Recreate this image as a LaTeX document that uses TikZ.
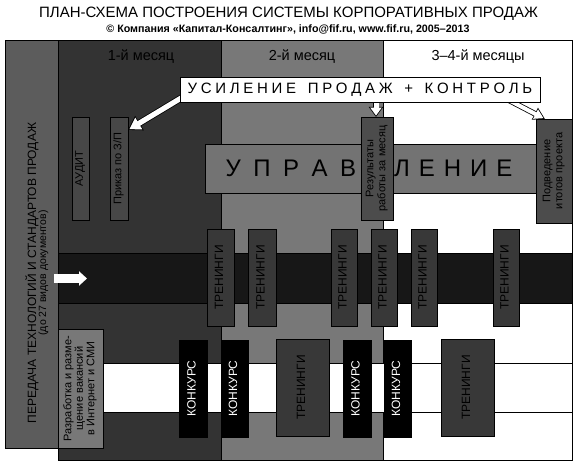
\documentclass[tikz,border=0pt]{standalone}
\usepackage{fontspec}
\usepackage{graphicx}
\setmainfont{Liberation Sans}
\usetikzlibrary{arrows.meta,calc}

\definecolor{leftcol}{gray}{0.36}
\definecolor{monA}{gray}{0.20}
\definecolor{monB}{gray}{0.47}
\definecolor{bandc}{gray}{0.09}
\definecolor{boxa}{gray}{0.28}
\definecolor{boxr}{gray}{0.30}
\definecolor{uprc}{gray}{0.45}
\definecolor{trc}{gray}{0.22}
\definecolor{razrc}{gray}{0.47}

\newcommand\kk{\kern3.7pt}
\newcommand\ku{\kern12.5pt}
\newcommand\kv{\kern9pt}
\newcommand\rbox[7]{\node[#6, minimum width={(#4-#2)*1pt}, minimum height={(#5-#3)*1pt}] (#1) at ({(#2+#4)/2},{(#3+#5)/2}) {\rotatebox{90}{\begin{tabular}{@{}c@{}}#7\end{tabular}}};}

\tikzset{
  frame/.style={draw=black, line width=0.9pt},
  boxbase/.style={draw=black, line width=0.9pt, inner sep=0pt, outer sep=0pt},
  boxA/.style={boxbase, fill=boxa, font=\fontsize{11}{12}\selectfont},
  boxR/.style={boxbase, fill=boxr, font=\fontsize{11}{12}\selectfont},
  trbox/.style={boxbase, fill=trc, font=\fontsize{12}{13}\selectfont},
  kbox/.style={boxbase, fill=black, text=white, font=\fontsize{12}{13}\selectfont},
  razrbox/.style={boxbase, fill=razrc, font=\fontsize{11}{11.5}\selectfont},
  mlabel/.style={font=\fontsize{14.5}{15}\selectfont, inner sep=0pt},
}

\begin{document}
\begin{tikzpicture}[x=1pt,y=-1pt]
\useasboundingbox (0,0) rectangle (578,468);
\fill[white] (0,0) rectangle (578,468);

% title
\node[font=\fontsize{15}{16}\selectfont, inner sep=0pt] (title) at (288.5,13.5) {ПЛАН-СХЕМА ПОСТРОЕНИЯ СИСТЕМЫ КОРПОРАТИВНЫХ ПРОДАЖ};
\node[font=\bfseries\fontsize{10.7}{12}\selectfont, inner sep=0pt] (sub) at (288,29.5) {© Компания «Капитал-Консалтинг», info@fif.ru, www.fif.ru, 2005–2013};

% background columns
\draw[frame, fill=white] (383,40) rectangle (572,460);
\draw[frame, fill=monB] (221,40) rectangle (383,460);
\draw[frame, fill=monA] (58,40) rectangle (221,460);
\draw[frame, fill=leftcol] (5,40) rectangle (58,448);
\draw[frame, fill=bandc] (58,253) rectangle (572,303);
\draw[frame, fill=white] (58,363) rectangle (572,412);

% month labels
\node[mlabel] (m1) at (141,57) {1-й месяц};
\node[mlabel] (m2) at (302,57) {2-й месяц};
\node[mlabel] (m3) at (478,57) {3–4-й месяцы};

% left column text
\node[inner sep=0pt] (ltext) at (37.5,273)
  {\rotatebox{90}{\begin{tabular}{@{}c@{}}\fontsize{12}{13}\selectfont ПЕРЕДАЧА ТЕХНОЛОГИЙ И СТАНДАРТОВ ПРОДАЖ\\[-2pt]
   \fontsize{10.5}{12}\selectfont (до 27 видов документов)\end{tabular}}};

% upper boxes
\rbox{audit}{72}{117}{89}{220}{boxA}{АУДИТ}
\rbox{prikaz}{110}{117}{128}{220}{boxA}{Приказ по З/П}
\node[boxbase, fill=uprc, minimum width=335pt, minimum height=49pt, font=\fontsize{24}{24}\selectfont] (upr) at (372.5,168.5)
  {\kern-7pt У\ku П\ku Р\ku А\ku В\kern38pt Л\kv Е\kv Н\kv И\kv Е};
\rbox{res}{361}{117}{393}{220}{boxR}{Результаты\\работы за месяц}
\rbox{podv}{536}{119}{572}{223}{boxR}{Подведение\\итогов проекта}

% trainings upper row
\rbox{t1}{207}{229}{234}{326}{trbox}{ТРЕНИНГИ}
\rbox{t2}{248}{229}{276}{326}{trbox}{ТРЕНИНГИ}
\rbox{t3}{331}{229}{357}{326}{trbox}{ТРЕНИНГИ}
\rbox{t4}{371}{229}{397}{326}{trbox}{ТРЕНИНГИ}
\rbox{t5}{411}{229}{437}{326}{trbox}{ТРЕНИНГИ}
\rbox{t6}{493}{229}{519}{326}{trbox}{ТРЕНИНГИ}

% lower row
\rbox{razr}{58}{329}{103}{448}{razrbox}{Разработка и разме-\\щение вакансий\\в Интернет и СМИ}
\rbox{k1}{179}{340}{207}{437}{kbox}{КОНКУРС}
\rbox{k2}{221}{340}{248}{437}{kbox}{КОНКУРС}
\rbox{t7}{276}{339}{329}{436}{trbox}{ТРЕНИНГИ}
\rbox{k3}{343}{340}{371}{437}{kbox}{КОНКУРС}
\rbox{k4}{384}{340}{411}{437}{kbox}{КОНКУРС}
\rbox{t8}{441}{339}{494}{436}{trbox}{ТРЕНИНГИ}

% banner node (placed for anchors, drawn later on top)
\path node[minimum width=360pt, minimum height=25pt, inner sep=0pt] (banner) at (360,89.5) {};

% arrows
\coordinate (aS) at ($(banner.south west)+(11,-10)$);
\coordinate (aE) at ($(prikaz.north east)+(0,13)$);
\draw[black, line width=6.8pt, -{Triangle[width=15.8pt,length=13.4pt]}] (aS) -- (aE);
\draw[white, line width=5.2pt, shorten >=1.57pt, -{Triangle[width=13pt,length=11pt]}] (aS) -- (aE);

\coordinate (bS) at ($(res.north |- banner.south)+(-1,-6)$);
\coordinate (bE) at ($(res.north)+(-1,0)$);
\draw[black, line width=6.6pt, -{Triangle[width=14pt,length=10.2pt]}] (bS) -- (bE);
\draw[white, line width=5pt, shorten >=1.41pt, -{Triangle[width=11pt,length=8pt]}] (bS) -- (bE);

\coordinate (cS) at ($(banner.south east)+(-39,-6)$);
\coordinate (cE) at ($(podv.north west)+(9,0)$);
\draw[black, line width=5.6pt, -{Triangle[width=12.7pt,length=11.45pt]}] (cS) -- (cE);
\draw[white, line width=4pt, shorten >=1.65pt, -{Triangle[width=10pt,length=9pt]}] (cS) -- (cE);

\coordinate (dS) at (54,278.5);
\coordinate (dE) at (87,278.5);
\draw[white, line width=9pt, -{Triangle[width=14pt,length=8pt]}] (dS) -- (dE);

% banner on top
\node[draw=black, line width=0.9pt, fill=white, minimum width=360pt, minimum height=25pt, inner sep=0pt, font=\fontsize{15}{15}\selectfont] at (banner.center)
  {У\kk С\kk И\kk Л\kk Е\kk Н\kk И\kk Е\kk\ \kk П\kk Р\kk О\kk Д\kk А\kk Ж\kk\ \kk +\kk\ \kk К\kk О\kk Н\kk Т\kk Р\kk О\kk Л\kk Ь};
\end{tikzpicture}
\end{document}
